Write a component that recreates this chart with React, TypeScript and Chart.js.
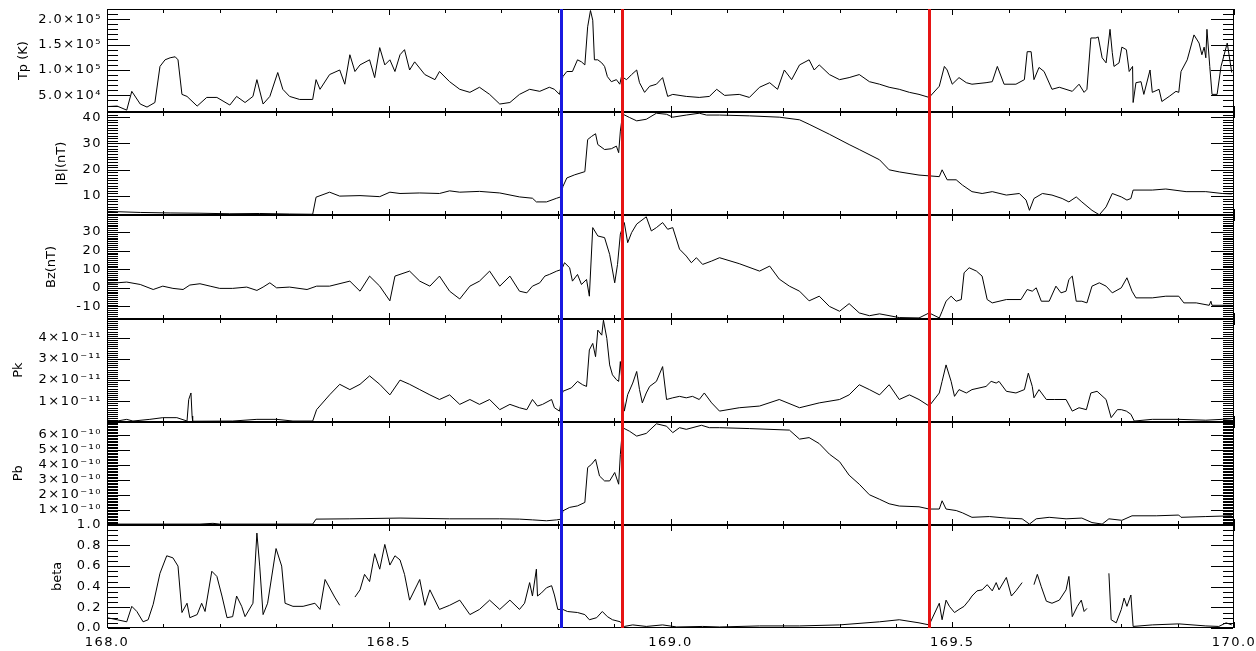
import React, { useEffect, useRef } from "react";
import { Chart, registerables } from "chart.js";

Chart.register(...registerables);

// ---------------- data ----------------
const xMin = 168.0;
const xMax = 170.0;
const xLabelTicks = [168.0, 168.5, 169.0, 169.5, 170.0];
const xMinorStep = 0.1;

const blueEvents = [168.805];
const redEvents = [168.914, 169.459];

// Tp (K)
const tpTime = [168.000,168.018,168.035,168.044,168.059,168.071,168.085,168.094,168.103,168.112,
168.121,168.126,168.133,168.142,168.160,168.177,168.195,168.218,168.230,168.245,
168.259,168.266,168.277,168.289,168.303,168.312,168.324,168.342,168.365,168.371,
168.378,168.395,168.413,168.422,168.431,168.440,168.449,168.466,168.475,168.484,
168.493,168.502,168.511,168.520,168.528,168.537,168.546,168.564,168.582,168.590,
168.608,168.626,168.644,168.661,168.679,168.697,168.715,168.732,168.750,168.768,
168.785,168.794,168.803,168.809,168.816,168.826,168.835,168.842,168.848,168.853,
168.858,168.862,168.865,168.871,168.878,168.883,168.888,168.895,168.904,168.910,
168.913,168.922,168.931,168.940,168.945,168.954,168.963,168.975,168.986,168.995,
169.004,169.028,169.051,169.069,169.082,169.096,169.122,169.140,169.158,169.176,
169.190,169.202,169.215,169.229,169.246,169.255,169.264,169.282,169.300,169.317,
169.335,169.353,169.371,169.388,169.406,169.424,169.441,169.459,169.477,169.486,
169.491,169.500,169.512,169.525,169.535,169.560,169.571,169.580,169.592,169.613,
169.628,169.633,169.640,169.645,169.654,169.663,169.677,169.690,169.713,169.725,
169.734,169.739,169.746,169.755,169.759,169.766,169.773,169.780,169.784,169.787,
169.796,169.801,169.809,169.814,169.820,169.821,169.826,169.835,169.840,169.851,
169.855,169.867,169.872,169.885,169.897,169.902,169.906,169.917,169.929,169.938,
169.943,169.947,169.950,169.952,169.957,169.961,169.970,169.977,169.988,169.996];
const tpVal = [28000,29000,21000,58000,33000,27000,36000,107000,120000,124000,
126000,120000,52000,48000,29000,46000,46000,31000,48000,36000,
48000,81000,33000,48000,95000,62000,48000,42000,42000,81000,
62000,91000,100000,72000,130000,97000,110000,120000,85000,144000,
110000,120000,97000,130000,140000,100000,116000,91000,81000,97000,
77000,62000,56000,66000,52000,33000,36000,52000,62000,58000,
66000,62000,52000,87000,97000,97000,120000,116000,110000,185000,
217000,198000,120000,120000,114000,107000,87000,77000,81000,72000,
87000,81000,91000,100000,75000,56000,68000,72000,85000,48000,
52000,48000,46000,48000,62000,50000,52000,46000,66000,75000,
62000,100000,81000,110000,120000,100000,110000,91000,81000,85000,
91000,77000,72000,66000,62000,56000,52000,46000,68000,107000,
100000,72000,85000,75000,72000,75000,77000,107000,72000,72000,
81000,136000,136000,81000,105000,97000,62000,66000,58000,72000,
56000,62000,163000,163000,165000,124000,114000,180000,134000,107000,
114000,145000,140000,97000,107000,36000,75000,77000,52000,100000,
56000,62000,38000,48000,58000,56000,97000,120000,169000,153000,
130000,145000,124000,180000,107000,52000,52000,107000,153000,95000];

// |B| (nT)
const bTime = [168.000,168.059,168.112,168.165,168.218,168.271,168.324,168.365,168.371,168.395,
168.413,168.449,168.484,168.502,168.520,168.555,168.590,168.608,168.626,168.661,
168.697,168.732,168.755,168.762,168.780,168.798,168.805,168.809,168.816,168.830,
168.848,168.853,168.860,168.867,168.871,168.883,168.895,168.904,168.908,168.911,
168.915,168.927,168.940,168.957,168.975,168.993,169.004,169.028,169.051,169.064,
169.087,169.140,169.193,169.229,169.246,169.282,169.317,169.335,169.371,169.388,
169.406,169.441,169.459,169.477,169.482,169.491,169.507,169.518,169.535,169.553,
169.571,169.596,169.619,169.631,169.637,169.645,169.660,169.677,169.695,169.707,
169.720,169.730,169.748,169.761,169.773,169.784,169.800,169.810,169.817,169.821,
169.855,169.879,169.915,169.950,169.979,169.996];
const bVal = [4.2,3.8,3.6,3.5,3.3,3.4,3.2,3.1,9.6,11.5,
10,10.2,9.8,11.5,11,11.2,11,12,11.5,11.8,
11.2,9.7,9.2,7.8,7.8,9.2,9.7,13.6,16.9,18.1,
19.3,31.5,32.7,33.7,29.6,27.7,28,29,26.5,34.7,
41.2,39.9,38.6,39.2,41.5,41.1,40,40.8,41.5,40.8,
40.8,40.5,40,39,37.3,33.5,29.6,27.7,23.8,20,
19.2,18,17.7,17.4,20,16.2,16.2,14.2,11.7,11,
11.7,10.4,11,8.5,4.6,9.1,11,10.4,9.1,7.8,
9.7,7.8,4.6,2.9,5.9,11,9.7,8.5,9.1,12.3,
12.3,12.7,11.7,11.7,11,10.8];

// Bz (nT)
const bzTime = [168.000,168.018,168.035,168.059,168.082,168.099,168.117,168.135,168.147,168.165,
168.183,168.200,168.223,168.248,168.266,168.277,168.289,168.301,168.324,168.355,
168.372,168.395,168.431,168.449,168.466,168.484,168.502,168.511,168.537,168.555,
168.573,168.590,168.608,168.626,168.644,168.661,168.679,168.697,168.715,168.732,
168.745,168.755,168.768,168.777,168.785,168.798,168.807,168.812,168.821,168.826,
168.835,168.842,168.851,168.856,168.862,168.871,168.883,168.892,168.901,168.906,
168.911,168.918,168.924,168.931,168.940,168.957,168.966,168.975,168.986,168.995,
169.004,169.016,169.028,169.037,169.046,169.057,169.073,169.087,169.122,169.158,
169.176,169.193,169.211,169.229,169.246,169.264,169.282,169.300,169.317,169.335,
169.353,169.371,169.406,169.441,169.459,169.477,169.482,169.489,169.498,169.507,
169.516,169.521,169.530,169.543,169.553,169.562,169.571,169.596,169.622,169.633,
169.642,169.649,169.658,169.672,169.684,169.693,169.702,169.707,169.713,169.720,
169.730,169.739,169.748,169.761,169.773,169.784,169.800,169.810,169.819,169.826,
169.855,169.879,169.902,169.911,169.933,169.956,169.959,169.961,169.996];
const bzVal = [2.5,2.7,3.1,1.8,-0.9,0.9,-0.3,-0.9,1.5,2.2,
0.9,-0.3,-0.3,0.4,-1.4,0.4,2.7,0,0.4,-0.9,
0.9,0.9,3.6,-1.8,6.3,0.9,-7,6.3,9,3.6,
0.9,6.3,-1.8,-6,0.9,3.6,9,0.9,6.3,-1.8,
-2.7,0.9,2.7,6.3,7.2,9,9.9,13.5,10.8,3.6,
7.2,1.8,4.5,-4.5,32.4,27.9,27,18,2.7,12.6,
28.9,35.1,24.3,29.7,34.3,38.2,30.6,32.4,35.1,31.5,
32.4,20.8,17.1,13.5,16.2,12.6,14.4,16.2,13,9,
11.7,4.7,0.9,-1.8,-7,-4.5,-10,-12.6,-8.5,-13.5,
-15,-14,-16,-16.2,-13.5,-16.2,-12.6,-7.2,-4.5,-7.2,
-6.3,8.1,10.8,9,6.3,-6.3,-8.1,-6.3,-6.3,-0.9,
-1.8,0,-7.2,-7.2,0.9,-2.7,-1.8,4.5,6.3,-7.2,
-7.2,-8.1,0.9,2.7,0.9,-2.7,0,5.4,-1.8,-5.4,
-5.4,-4.5,-4.5,-8.1,-8.1,-9.4,-7.2,-9.4,-9.4];

// Pk (read in units of 1e-11)
const pkTime = [168.000,168.018,168.035,168.046,168.076,168.099,168.124,168.142,168.145,168.149,
168.151,168.152,168.223,168.266,168.301,168.330,168.365,168.372,168.395,168.413,
168.431,168.449,168.466,168.484,168.502,168.520,168.537,168.555,168.573,168.590,
168.608,168.626,168.644,168.661,168.679,168.697,168.715,168.732,168.745,168.755,
168.764,168.773,168.789,168.794,168.803,168.809,168.824,168.835,168.844,168.851,
168.856,168.862,168.867,168.871,168.878,168.881,168.887,168.892,168.897,168.904,
168.908,168.911,168.918,168.924,168.933,168.940,168.945,168.950,168.957,168.963,
168.975,168.986,168.993,169.004,169.016,169.028,169.039,169.051,169.060,169.073,
169.087,169.122,169.158,169.193,169.229,169.264,169.300,169.317,169.335,169.353,
169.371,169.388,169.406,169.424,169.441,169.459,169.477,169.482,169.489,169.498,
169.504,169.512,169.525,169.535,169.560,169.569,169.578,169.583,169.596,169.613,
169.628,169.635,169.642,169.645,169.654,169.667,169.681,169.702,169.713,169.725,
169.738,169.746,169.757,169.773,169.782,169.793,169.800,169.809,169.817,169.823,
169.855,169.902,169.950,169.979,169.996];
const pkVal11 = [0.10,0.06,0.14,0.06,0.14,0.22,0.22,0.06,1.08,1.39,
0.30,0.05,0.06,0.14,0.14,0.06,0.06,0.60,1.30,1.80,
1.55,1.80,2.20,1.80,1.30,2.00,1.80,1.55,1.30,1.08,
1.30,0.85,1.08,0.85,1.08,0.60,0.85,0.69,0.60,1.08,
0.77,0.85,1.08,0.69,0.53,1.47,1.63,1.94,1.78,1.70,
3.43,3.74,3.11,4.37,4.13,4.84,3.98,2.72,2.25,2.02,
1.94,2.88,0.53,1.31,1.86,2.41,1.55,0.92,1.39,1.70,
1.94,2.64,1.08,1.16,1.23,1.16,1.23,1.08,1.39,0.92,
0.53,0.69,0.77,1.08,0.69,0.92,1.08,1.30,1.78,1.55,
1.30,1.78,1.08,1.30,1.08,0.77,1.39,1.94,2.72,1.94,
1.23,1.55,1.39,1.55,1.70,1.94,1.86,1.94,1.47,1.39,
1.55,2.33,1.70,1.16,1.55,1.08,1.08,1.08,0.53,0.69,
0.60,1.39,1.47,1.08,0.22,0.60,0.60,0.53,0.38,0.06,
0.14,0.14,0.10,0.14,0.17];
const pkVal = pkVal11.map((v) => v * 1e-11);

// Pb (read in units of 1e-10)
const pbTime = [168.000,168.165,168.188,168.200,168.365,168.371,168.431,168.520,168.608,168.697,
168.732,168.755,168.780,168.798,168.807,168.809,168.821,168.835,168.848,168.853,
168.860,168.867,168.874,168.883,168.892,168.901,168.908,168.911,168.915,168.927,
168.940,168.957,168.975,168.993,169.004,169.016,169.028,169.055,169.069,169.087,
169.140,169.211,169.229,169.246,169.264,169.282,169.300,169.317,169.335,169.353,
169.371,169.388,169.406,169.441,169.459,169.477,169.482,169.489,169.507,169.518,
169.535,169.566,169.596,169.624,169.637,169.649,169.672,169.702,169.730,169.748,
169.766,169.778,169.801,169.819,169.862,169.902,169.906,169.950,169.996];
const pbVal10 = [0.05,0.05,0.10,0.05,0.05,0.38,0.40,0.45,0.40,0.40,
0.38,0.33,0.27,0.33,0.38,0.93,1.16,1.26,1.49,3.81,
4.03,4.36,3.25,2.92,2.92,3.48,2.70,4.69,6.46,6.23,
5.90,6.08,6.72,6.56,6.13,6.46,6.35,6.62,6.46,6.46,
6.40,6.30,5.70,5.80,5.40,4.70,4.20,3.30,2.70,2.00,
1.70,1.40,1.25,1.20,1.05,1.05,1.60,1.05,0.95,0.80,
0.50,0.55,0.45,0.40,0.05,0.40,0.50,0.40,0.45,0.15,
0.05,0.40,0.30,0.60,0.60,0.65,0.50,0.55,0.60];
const pbVal = pbVal10.map((v) => v * 1e-10);

// beta (null = data gap)
const betaTime = [168.000,168.018,168.035,168.044,168.053,168.064,168.073,168.082,168.094,168.106,
168.117,168.126,168.133,168.142,168.147,168.160,168.168,168.174,168.186,168.195,
168.204,168.213,168.223,168.230,168.239,168.245,168.259,168.266,168.271,168.277,
168.285,168.300,168.310,168.316,168.330,168.348,168.369,168.378,168.387,168.404,
168.413,168.427,168.440,168.449,168.457,168.466,168.475,168.484,168.493,168.502,
168.511,168.520,168.528,168.537,168.555,168.564,168.573,168.590,168.608,168.626,
168.644,168.661,168.679,168.697,168.715,168.732,168.741,168.750,168.755,168.762,
168.764,168.771,168.780,168.789,168.794,168.800,168.809,168.817,168.835,168.848,
168.856,168.869,168.879,168.888,168.897,168.911,168.918,168.933,168.957,168.986,
169.011,169.057,169.087,169.158,169.229,169.300,169.371,169.406,169.441,169.459,
169.477,169.482,169.489,169.495,169.504,169.512,169.521,169.530,169.535,169.544,
169.553,169.562,169.571,169.578,169.583,169.596,169.605,169.613,169.624,169.635,
169.645,169.651,169.658,169.667,169.677,169.690,169.702,169.707,169.713,169.722,
169.729,169.734,169.739,169.759,169.778,169.782,169.791,169.800,169.805,169.810,
169.817,169.821,169.855,169.902,169.950,169.973,169.986,169.996];
const betaVal = [0.10,0.08,0.06,0.21,0.16,0.06,0.08,0.23,0.53,0.70,
0.68,0.60,0.15,0.24,0.10,0.13,0.24,0.16,0.55,0.50,
0.31,0.10,0.11,0.31,0.21,0.11,0.24,0.92,0.60,0.13,
0.24,0.77,0.60,0.24,0.21,0.21,0.24,0.18,0.47,0.30,
0.22,null,0.30,0.37,0.52,0.45,0.72,0.57,0.81,0.61,
0.70,0.66,0.52,0.27,0.47,0.22,0.37,0.18,0.22,0.27,
0.13,0.18,0.27,0.18,0.27,0.18,0.24,0.44,0.31,0.57,
0.31,0.34,0.39,0.41,0.32,0.18,0.18,0.16,0.15,0.13,
0.08,0.10,0.16,0.11,0.08,0.06,0.015,0.03,0.015,0.03,
0.01,0.015,0.01,0.02,0.02,0.03,0.06,0.08,0.05,0.03,
0.24,0.08,0.27,0.21,0.15,0.18,0.21,0.27,0.31,0.36,
0.37,0.42,0.36,0.44,0.37,0.49,0.31,0.36,0.44,null,
0.42,0.52,0.40,0.26,0.24,0.27,0.37,0.50,0.11,0.21,
0.27,0.16,0.19,null,0.53,0.08,0.05,0.18,0.29,0.21,
0.32,0.015,0.03,0.04,0.02,0.015,0.05,0.03];

// axis ticks
const tpMajor = [5e4, 1e5, 1.5e5, 2e5];
const tpLabels = ["5.0×10⁴", "1.0×10⁵", "1.5×10⁵", "2.0×10⁵"];
const bMajor = [10, 20, 30, 40];
const bLabels = ["10", "20", "30", "40"];
const bzMajor = [-10, 0, 10, 20, 30];
const bzLabels = ["-10", "0", "10", "20", "30"];
const pkMajor = [1e-11, 2e-11, 3e-11, 4e-11];
const pkLabels = ["1×10⁻¹¹", "2×10⁻¹¹", "3×10⁻¹¹", "4×10⁻¹¹"];
const pbMajor = [1e-10, 2e-10, 3e-10, 4e-10, 5e-10, 6e-10];
const pbLabels = ["1×10⁻¹⁰", "2×10⁻¹⁰", "3×10⁻¹⁰", "4×10⁻¹⁰", "5×10⁻¹⁰", "6×10⁻¹⁰"];
const betaMajor = [0, 0.2, 0.4, 0.6, 0.8, 1.0];
const betaLabels = ["0.0", "0.2", "0.4", "0.6", "0.8", "1.0"];

// ---------------- panel setup (styles / ranges) ----------------
const panels = [
  { id: "yTp", title: "Tp (K)", min: 1.7e4, max: 2.2e5, major: tpMajor, labels: tpLabels, minor: 1e4, time: tpTime, value: tpVal, titleX: 24 },
  { id: "yB", title: "|B|(nT)", min: 2.7, max: 41.9, major: bMajor, labels: bLabels, minor: 1, time: bTime, value: bVal, titleX: 62 },
  { id: "yBz", title: "Bz(nT)", min: -16.5, max: 39, major: bzMajor, labels: bzLabels, minor: 1, time: bzTime, value: bzVal, titleX: 52 },
  { id: "yPk", title: "Pk", min: 0.03e-11, max: 4.92e-11, major: pkMajor, labels: pkLabels, minor: 0.1e-11, time: pkTime, value: pkVal, titleX: 19 },
  { id: "yPb", title: "Pb", min: 0, max: 6.86e-10, major: pbMajor, labels: pbLabels, minor: 0.1e-10, time: pbTime, value: pbVal, titleX: 19 },
  { id: "yBeta", title: "beta", min: 0, max: 1.0, major: betaMajor, labels: betaLabels, minor: 0.05, time: betaTime, value: betaVal, titleX: 58 },
];

const FONT_FAMILY = "'DejaVu Sans', 'Liberation Sans', sans-serif";
const TICK_FONT = { family: FONT_FAMILY, size: 13 };
const AXIS_WIDTH = 107;
const MAJOR_LEN = 22;
const MINOR_LEN = 10;
const X_TICK_LEN = 4;
const X_MAJOR_LEN = 6;
const BLUE = "rgb(25,25,225)";
const RED = "rgb(230,20,20)";

function drawFrame(chart: any) {
  const ctx: CanvasRenderingContext2D = chart.ctx;
  const xs = chart.scales.x;
  const area = chart.chartArea;
  const L = Math.round(area.left);
  const R = Math.round(area.right);
  ctx.save();
  ctx.fillStyle = "#000000";
  for (const p of panels) {
    const ys = chart.scales[p.id];
    const T = Math.round(ys.top);
    const B = Math.round(ys.bottom);
    // panel box
    ctx.fillRect(L, T, R - L, 1);
    ctx.fillRect(L, B - 1, R - L, 1);
    ctx.fillRect(L, T, 1, B - T);
    ctx.fillRect(R - 1, T, 1, B - T);
    // y ticks (major + minor), mirrored on both sides
    const kStart = Math.ceil(p.min / p.minor - 1e-6);
    const kEnd = Math.floor(p.max / p.minor + 1e-6);
    for (let k = kStart; k <= kEnd; k++) {
      const v = k * p.minor;
      let isMajor = false;
      for (const m of p.major) {
        if (Math.abs(m - v) < p.minor * 1e-3) isMajor = true;
      }
      const len = isMajor ? MAJOR_LEN : MINOR_LEN;
      const y = Math.round(ys.getPixelForValue(v));
      if (y < T || y > B) continue;
      ctx.fillRect(L + 1, y, len, 1);
      ctx.fillRect(R - 1 - len, y, len, 1);
    }
    // x ticks at top and bottom of each panel
    const n = Math.round((xMax - xMin) / xMinorStep);
    for (let k = 0; k <= n; k++) {
      const t = xMin + k * xMinorStep;
      let isMajor = false;
      for (const m of xLabelTicks) {
        if (Math.abs(m - t) < 1e-6) isMajor = true;
      }
      const len = isMajor ? X_MAJOR_LEN : X_TICK_LEN;
      const x = Math.round(xs.getPixelForValue(t));
      ctx.fillRect(x, T, 1, len);
      ctx.fillRect(x, B - len, 1, len);
    }
  }
  // event lines
  const drawEvent = (t: number, color: string) => {
    const x = xs.getPixelForValue(t);
    ctx.fillStyle = color;
    ctx.fillRect(Math.round(x) - 1, Math.round(area.top), 3, Math.round(area.bottom - area.top));
  };
  blueEvents.forEach((t) => drawEvent(t, BLUE));
  redEvents.forEach((t) => drawEvent(t, RED));
  ctx.restore();
}

function drawTitles(chart: any) {
  const ctx = chart.ctx;
  ctx.save();
  ctx.letterSpacing = "0px";
  ctx.fillStyle = "#000";
  ctx.font = `13px ${FONT_FAMILY}`;
  ctx.textAlign = "center";
  ctx.textBaseline = "middle";
  panels.forEach((p) => {
    const ys = chart.scales[p.id];
    ctx.save();
    ctx.translate(p.titleX, (ys.top + ys.bottom) / 2);
    ctx.rotate(-Math.PI / 2);
    ctx.fillText(p.title, 0, 0);
    ctx.restore();
  });
  ctx.restore();
}

const decorPlugin = {
  id: "idlDecor",
  beforeDraw(chart: any) {
    chart.ctx.letterSpacing = "1.5px";
  },
  afterDraw(chart: any) {
    drawFrame(chart);
    drawTitles(chart);
  },
};

export default function App() {
  const canvasRef = useRef<HTMLCanvasElement>(null);

  useEffect(() => {
    const canvas = canvasRef.current;
    if (!canvas) return;

    const datasets = panels.map((p) => ({
      label: p.title,
      data: p.time.map((t, i) => ({ x: t, y: p.value[i] })),
      yAxisID: p.id,
      borderColor: "#000",
      borderWidth: 1,
      pointRadius: 0,
      tension: 0,
      spanGaps: false,
      fill: false,
    }));

    const scales: any = {
      x: {
        type: "linear",
        position: "bottom",
        min: xMin,
        max: xMax,
        grid: { display: false, drawTicks: false },
        border: { display: false },
        ticks: {
          font: TICK_FONT,
          color: "#000",
          padding: 7,
          autoSkip: false,
          maxRotation: 0,
          callback: (v: number) => Number(v).toFixed(1),
        },
        afterBuildTicks: (s: any) => {
          s.ticks = xLabelTicks.map((v) => ({ value: v }));
        },
        afterFit: (s: any) => {
          s.height = 23;
          s.paddingLeft = 0;
          s.paddingRight = 0;
        },
      },
    };

    panels.forEach((p, i) => {
      scales[p.id] = {
        type: "linear",
        position: "left",
        stack: "panels",
        stackWeight: 1,
        weight: panels.length - i,
        min: p.min,
        max: p.max,
        grid: { display: false, drawTicks: false },
        border: { display: false },
        ticks: {
          font: TICK_FONT,
          color: "#000",
          padding: 5,
          autoSkip: false,
          callback: (_v: number, idx: number) => p.labels[idx],
        },
        afterBuildTicks: (s: any) => {
          s.ticks = p.major.map((v) => ({ value: v }));
        },
        afterFit: (s: any) => {
          s.width = AXIS_WIDTH;
          s.paddingTop = 0;
          s.paddingBottom = 0;
        },
      };
    });

    const chart = new Chart(canvas, {
      type: "line",
      data: { datasets } as any,
      options: {
        responsive: false,
        maintainAspectRatio: false,
        animation: false,
        layout: { padding: { top: 9, right: 22, bottom: 0, left: 0 } },
        plugins: {
          legend: { display: false },
          tooltip: { enabled: false },
          title: { display: false },
        },
        scales,
      } as any,
      plugins: [decorPlugin],
    });

    return () => chart.destroy();
  }, []);

  return (
    <div style={{ position: "fixed", left: 0, top: 0, width: 1256, height: 651, background: "#fff" }}>
      <canvas ref={canvasRef} width={1256} height={651} style={{ display: "block" }} />
    </div>
  );
}
